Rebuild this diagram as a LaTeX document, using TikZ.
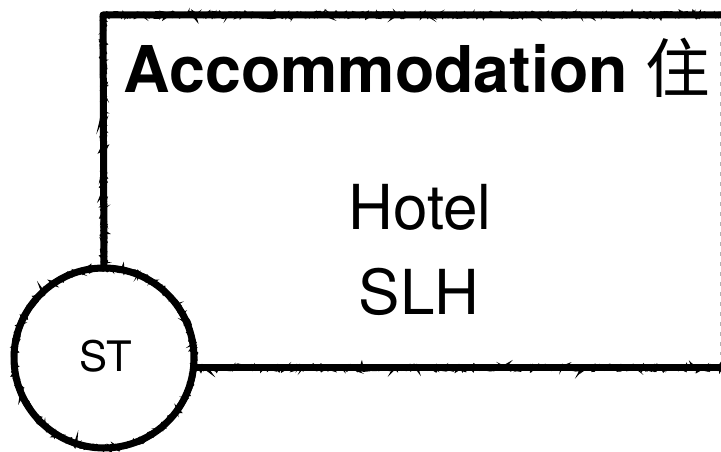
\documentclass[tikz,border=0pt]{standalone}
\usepackage{fontspec}
\setmainfont{TeX Gyre Heros}
\newfontfamily\cjk{Noto Sans CJK SC}
\usetikzlibrary{decorations.pathmorphing}
\begin{document}
\begin{tikzpicture}[x=1pt,y=1pt,
  chalk/.style={line width=7pt, draw=black, line cap=round, line join=round},
  chalkrough/.style={line width=3pt, draw=black, decorate,
     decoration={random steps, segment length=2.5pt, amplitude=2.6pt}},
  chalkfine/.style={line width=1.4pt, draw=black, decorate,
     decoration={random steps, segment length=1.8pt, amplitude=3.4pt}},
  bigtxt/.style={font=\fontsize{62}{62}\selectfont, anchor=base, inner sep=0pt},
  titletxt/.style={font=\fontsize{64.5}{64.5}\selectfont\bfseries, anchor=base, inner sep=0pt},
  sttxt/.style={font=\fontsize{42}{42}\selectfont, anchor=base, inner sep=0pt}]
\useasboundingbox (0,0) rectangle (721,452);
\clip (0,0) rectangle (721,452);
% geometry
\node[circle, minimum size=180pt, inner sep=0pt] (st) at (104,94) {};
\coordinate (tl) at (103,437);
\coordinate (tr) at (730,437);
\coordinate (br) at (730,84);
\coordinate (be) at (193.5,84);
\coordinate (rt) at (720,430);
\coordinate (rb) at (720,97);
% frame: solid core
\path[chalk] (st.north) -- (tl) -- (tr);
\path[chalk] (be) -- (br);
\path[chalk] (st.center) circle (90pt);
% frame: rough edges
\path[chalkrough] (st.north) -- (tl) -- (tr);
\path[chalkrough] (be) -- (br);
\path[chalkrough] (st.center) circle (90pt);
\path[chalkfine] (st.north) -- (tl) -- (tr);
\path[chalkfine] (be) -- (br);
\path[chalkfine] (st.center) circle (90pt);
\draw[gray!60, line width=0.6pt, dash pattern=on 4pt off 6pt] (rt) -- (rb);
% texts
\node[titletxt] (title) at (417,359) {Accommodation {\cjk\mdseries 住}};
\node[bigtxt] (hotel) at (420,222) {Hotel};
\node[bigtxt] (slh) at (419,137) {SLH};
\node[sttxt] (sttext) at (106,80) {ST};
\end{tikzpicture}
\end{document}
